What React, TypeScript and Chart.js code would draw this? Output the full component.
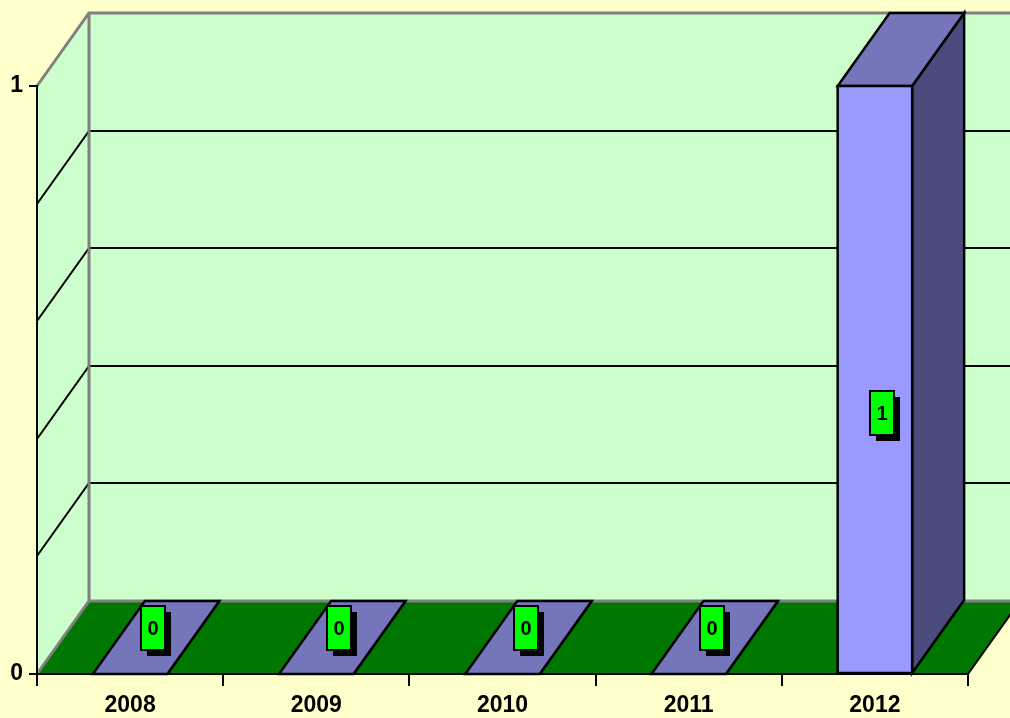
import React, { useEffect, useRef } from "react";
import { Chart, registerables } from "chart.js";

Chart.register(...registerables);

const categories = ["2008", "2009", "2010", "2011", "2012"];
const values = [0, 0, 0, 0, 1];
const depthGridValues = [0.2, 0.4, 0.6, 0.8];
const yMin = 0;
const yMax = 1;

const DX = 52;
const DY = -73;
const FONT = "'Liberation Sans', Arial, sans-serif";

const threeD = {
  id: "threeD",
  beforeDraw(chart: any) {
    const { ctx, width } = chart;
    const { left, right, top, bottom } = chart.chartArea;
    const ys = chart.scales.y;
    ctx.save();
    ctx.fillStyle = "#FFFFCC";
    ctx.fillRect(0, 0, width, chart.height);
    const bx = left + DX;
    const yTop = top + DY;
    const yFloor = bottom + DY;
    ctx.fillStyle = "#CCFFCC";
    ctx.fillRect(bx, yTop, width - bx + 10, yFloor - yTop);
    ctx.beginPath();
    ctx.moveTo(left, bottom);
    ctx.lineTo(left, top);
    ctx.lineTo(bx, yTop);
    ctx.lineTo(bx, yFloor);
    ctx.closePath();
    ctx.fill();
    ctx.fillStyle = "#007700";
    ctx.beginPath();
    ctx.moveTo(left, bottom);
    ctx.lineTo(right, bottom);
    ctx.lineTo(right + DX, yFloor);
    ctx.lineTo(bx, yFloor);
    ctx.closePath();
    ctx.fill();
    ctx.strokeStyle = "#000";
    ctx.lineWidth = 2;
    for (const v of depthGridValues) {
      const py = Math.round(ys.getPixelForValue(v));
      ctx.beginPath();
      ctx.moveTo(left, py);
      ctx.lineTo(bx, py + DY);
      ctx.lineTo(width + 5, py + DY);
      ctx.stroke();
    }
    ctx.strokeStyle = "#808080";
    ctx.lineWidth = 3;
    ctx.beginPath();
    ctx.moveTo(left, top);
    ctx.lineTo(bx, yTop);
    ctx.lineTo(width + 5, yTop);
    ctx.moveTo(bx, yTop);
    ctx.lineTo(bx, yFloor);
    ctx.moveTo(left, bottom);
    ctx.lineTo(bx, yFloor);
    ctx.lineTo(width + 5, yFloor);
    ctx.stroke();
    ctx.strokeStyle = "#000";
    ctx.lineWidth = 2;
    ctx.beginPath();
    ctx.moveTo(right, bottom);
    ctx.lineTo(right + DX, yFloor);
    ctx.stroke();
    ctx.restore();
  },
  afterDatasetsDraw(chart: any) {
    const { ctx } = chart;
    const meta = chart.getDatasetMeta(0);
    const { top } = chart.chartArea;
    ctx.save();
    ctx.lineWidth = 2.5;
    ctx.lineJoin = "miter";
    ctx.strokeStyle = "#000";
    meta.data.forEach((el: any) => {
      const { x, y, base, width: w } = el.getProps(["x", "y", "base", "width"], true);
      const l = x - w / 2;
      const r = x + w / 2;
      ctx.fillStyle = "#4B4B7D";
      ctx.beginPath();
      ctx.moveTo(r, y);
      ctx.lineTo(r, base);
      ctx.lineTo(r + DX, base + DY);
      ctx.lineTo(r + DX, y + DY);
      ctx.closePath();
      ctx.fill();
      ctx.stroke();
      ctx.fillStyle = "#7575BB";
      ctx.beginPath();
      ctx.moveTo(l, y);
      ctx.lineTo(r, y);
      ctx.lineTo(r + DX, y + DY);
      ctx.lineTo(l + DX, y + DY);
      ctx.closePath();
      ctx.fill();
      ctx.stroke();
      if (base - y > 0.5) {
        ctx.fillStyle = "#9999FF";
        ctx.fillRect(l, y, w, base - y);
        ctx.strokeRect(l, y, w, base - y);
      }
    });
    meta.data.forEach((el: any, i: number) => {
      const { x, y, base } = el.getProps(["x", "y", "base"], true);
      const t = (base - y) / (base - top);
      const cx = x + 23 - 16 * t;
      const cy = base - 46 - 214 * t;
      const bw = 24;
      const bh = 44;
      const bl = Math.round(cx - bw / 2);
      const bt = Math.round(cy - bh / 2);
      ctx.fillStyle = "#000";
      ctx.fillRect(bl + 6, bt + 6, bw, bh);
      ctx.fillStyle = "#00FF00";
      ctx.fillRect(bl, bt, bw, bh);
      ctx.strokeStyle = "#000";
      ctx.lineWidth = 2;
      ctx.strokeRect(bl, bt, bw, bh);
      ctx.fillStyle = "#000";
      ctx.font = `bold 20px ${FONT}`;
      ctx.textAlign = "center";
      ctx.textBaseline = "middle";
      ctx.fillText(String(values[i]), bl + bw / 2, bt + bh / 2 + 1);
    });
    ctx.restore();
  },
};

export default function App() {
  const ref = useRef<HTMLCanvasElement | null>(null);
  useEffect(() => {
    if (!ref.current) return;
    const chart = new Chart(ref.current, {
      type: "bar",
      data: {
        labels: categories,
        datasets: [
          {
            data: values,
            backgroundColor: "rgba(0,0,0,0)",
            borderWidth: 0,
            categoryPercentage: 1,
            barPercentage: 0.4,
          },
        ],
      },
      options: {
        animation: false,
        responsive: true,
        maintainAspectRatio: false,
        layout: { padding: { top: 86, right: 42, left: 0, bottom: 0 } },
        plugins: { legend: { display: false }, tooltip: { enabled: false } },
        scales: {
          x: {
            afterFit: (s: any) => {
              s.height = 44;
            },
            grid: {
              offset: true,
              drawOnChartArea: false,
              tickLength: 12,
              color: "#000",
              lineWidth: 2,
            },
            border: { display: true, color: "#000", width: 2 },
            ticks: {
              color: "#000",
              padding: 6,
              font: { family: FONT, size: 23, weight: "bold" },
            },
          },
          y: {
            min: yMin,
            max: yMax,
            afterFit: (s: any) => {
              s.width = 37;
            },
            grid: {
              drawOnChartArea: false,
              tickLength: 8,
              color: "#000",
              lineWidth: 2,
            },
            border: { display: true, color: "#000", width: 2 },
            ticks: {
              stepSize: 1,
              color: "#000",
              padding: 6,
              font: { family: FONT, size: 23, weight: "bold" },
            },
          },
        },
      },
      plugins: [threeD],
    });
    return () => chart.destroy();
  }, []);
  return (
    <div style={{ position: "fixed", left: 0, top: 0, width: 1010, height: 718 }}>
      <canvas ref={ref} />
    </div>
  );
}
